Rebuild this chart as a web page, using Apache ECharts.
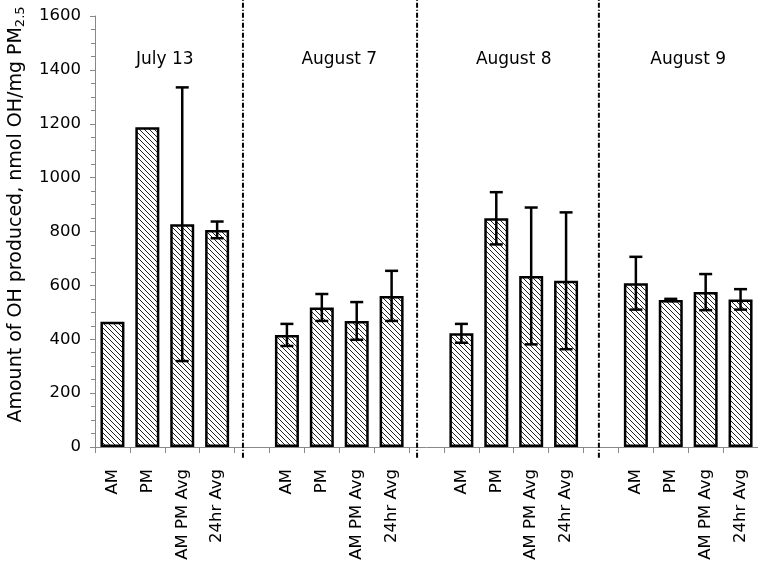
<!DOCTYPE html>
<html><head><meta charset="utf-8">
<script src="https://cdn.jsdelivr.net/npm/echarts@6/dist/echarts.min.js"></script>
<style>html,body{margin:0;padding:0;background:#fff}#c{width:758px;height:573px}</style>
</head><body><div id="c"></div>
<script>
// ---- data ----
const groupNames = ['July 13', 'August 7', 'August 8', 'August 9'];
const periodLabels = ['AM', 'PM', 'AM PM Avg', '24hr Avg'];
const july13Values = [465, 1187, 827, 806];
const july13Errors = [null, null, 508, 31];
const aug7Values = [416, 518, 468, 561];
const aug7Errors = [41, 50, 70, 93];
const aug8Values = [422, 849, 635, 617];
const aug8Errors = [35, 97, 254, 254];
const aug9Values = [608, 546, 575, 548];
const aug9Errors = [98, 4, 67, 38];
const yMin = 0, yMax = 1600, yInterval = 200;

// ---- layout helpers (not data) ----
const groupLabelLevel = 1440;
const dividerPositions = [4.24, 9.23, 14.44];
const FONT = 'DejaVu Sans';

const groupValues = [july13Values, aug7Values, aug8Values, aug9Values];
const groupErrors = [july13Errors, aug7Errors, aug8Errors, aug9Errors];
const categories = [], values = [], errorData = [];
groupNames.forEach((g, gi) => {
  if (gi > 0) { categories.push(''); values.push(null); }
  periodLabels.forEach((p, pi) => {
    const idx = categories.length;
    categories.push(p);
    values.push(groupValues[gi][pi]);
    const e = groupErrors[gi][pi];
    if (e != null) errorData.push([idx, groupValues[gi][pi], e]);
  });
});
const nCat = categories.length;

// hatch pattern
const T = 5;
const tile = document.createElement('canvas');
tile.width = T; tile.height = T;
const ctx = tile.getContext('2d');
ctx.fillStyle = '#fff'; ctx.fillRect(0, 0, T, T);
ctx.strokeStyle = '#222'; ctx.lineWidth = 1;
ctx.beginPath();
ctx.moveTo(-1, -1); ctx.lineTo(T + 1, T + 1);
ctx.moveTo(-1, T - 1); ctx.lineTo(1, T + 1);
ctx.moveTo(T - 1, -1); ctx.lineTo(T + 1, 1);
ctx.stroke();

const chart = echarts.init(document.getElementById('c'));
chart.setOption({
  animation: false,
  backgroundColor: '#fff',
  grid: { left: 95, right: 0, top: 16, bottom: 126, containLabel: false, outerBoundsMode: 'none' },
  xAxis: [{
    type: 'category', data: categories,
    axisLine: { lineStyle: { color: '#888', width: 1 } },
    axisTick: { show: true, interval: 0, alignWithLabel: false, length: 6, lineStyle: { color: '#888' } },
    axisLabel: { interval: 0, rotate: 90, margin: 22, fontSize: 16.5, color: '#000', fontFamily: FONT },
    splitLine: { show: false }
  }, {
    type: 'value', min: 0, max: nCat, show: false
  }],
  yAxis: {
    type: 'value', min: yMin, max: yMax, interval: yInterval,
    axisLine: { show: true, lineStyle: { color: '#888', width: 1 } },
    axisTick: { show: true, length: 5, lineStyle: { color: '#888' } },
    minorTick: { show: true, splitNumber: 4, length: 4, lineStyle: { color: '#888' } },
    splitLine: { show: false },
    axisLabel: { fontSize: 16.5, color: '#000', fontFamily: FONT, margin: 14, formatter: v => String(v) },
    name: '{a|Amount of OH produced, nmol OH/mg PM}{b|2.5}',
    nameLocation: 'middle', nameGap: 68,
    nameTextStyle: {
      color: '#000', fontFamily: FONT, padding: [0, 0, 0, 34],
      rich: {
        a: { fontSize: 19, fontFamily: FONT, color: '#000' },
        b: { fontSize: 13, fontFamily: FONT, color: '#000', verticalAlign: 'bottom', padding: [9, 0, 0, 0] }
      }
    }
  },
  series: [{
    type: 'bar', data: values, barWidth: 24,
    itemStyle: { color: { image: tile, repeat: 'repeat' }, borderColor: '#000', borderWidth: 2.5 }
  }, {
    type: 'custom', xAxisIndex: 0, data: errorData, z: 5,
    renderItem: function (params, api) {
      const x = api.value(0), v = api.value(1), e = api.value(2);
      const top = api.coord([x, v + e]), bot = api.coord([x, v - e]);
      const hw = 6.5;
      const st = { stroke: '#000', lineWidth: 2.5 };
      return { type: 'group', children: [
        { type: 'line', shape: { x1: top[0], y1: top[1], x2: bot[0], y2: bot[1] }, style: st },
        { type: 'line', shape: { x1: top[0] - hw, y1: top[1], x2: top[0] + hw, y2: top[1] }, style: st },
        { type: 'line', shape: { x1: bot[0] - hw, y1: bot[1], x2: bot[0] + hw, y2: bot[1] }, style: st }
      ]};
    }
  }, {
    type: 'custom', xAxisIndex: 1, clip: false, z: 6,
    data: dividerPositions.map(p => [p, 0]),
    renderItem: function (params, api) {
      const p = api.value(0);
      const a = api.coord([p, yMin - 40]), b = api.coord([p, yMax + 60]);
      return { type: 'line', shape: { x1: a[0], y1: a[1], x2: b[0], y2: b[1] },
        style: { stroke: '#000', lineWidth: 2, lineDash: [5, 2, 1, 2] } };
    }
  }, {
    type: 'custom', xAxisIndex: 1, z: 6,
    data: groupNames.map((g, i) => [i * (periodLabels.length + 1) + periodLabels.length / 2, groupLabelLevel, g]),
    renderItem: function (params, api) {
      const pt = api.coord([api.value(0), api.value(1)]);
      return { type: 'text', x: pt[0], y: pt[1],
        style: { text: groupNames[params.dataIndex], align: 'center', verticalAlign: 'middle',
          fontSize: 17, fontFamily: FONT, fill: '#000' } };
    }
  }]
});
</script></body></html>
